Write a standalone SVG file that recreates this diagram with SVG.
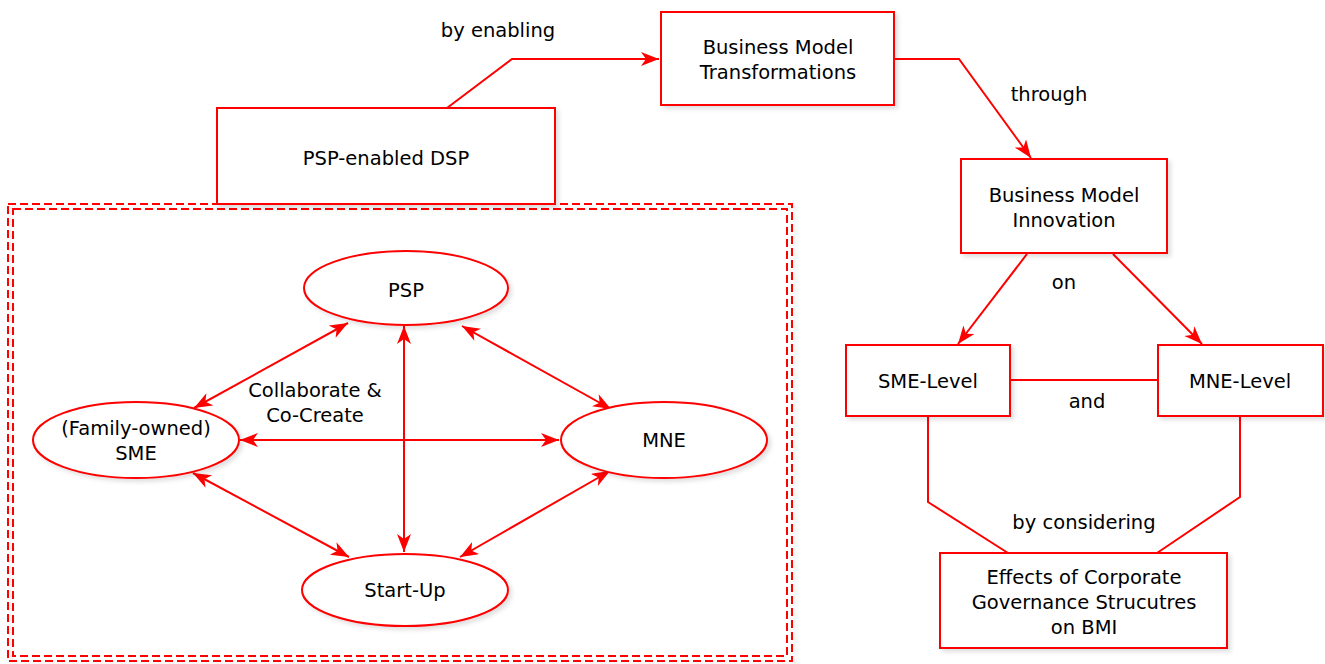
<svg xmlns="http://www.w3.org/2000/svg" width="1325" height="664" viewBox="0 0 1325 664">
  <style>
    .box { fill: #ffffff; stroke: #ff0000; stroke-width: 2; filter: url(#shadow); }
    .line { fill: none; stroke: #ff0000; stroke-width: 2; }
    .frame { fill: none; stroke: #ff0000; stroke-width: 2; stroke-dasharray: 8 4; }
    text { font-family: "DejaVu Sans", "Liberation Sans", sans-serif; font-size: 19.5px; fill: #000000; text-anchor: middle; dominant-baseline: central; }
  </style>
  <defs>
    <filter id="shadow" x="-10%" y="-10%" width="130%" height="130%">
      <feDropShadow dx="3" dy="3" stdDeviation="2" flood-color="#000000" flood-opacity="0.12"/>
    </filter>
    <marker id="head" markerUnits="userSpaceOnUse" markerWidth="19" markerHeight="15" refX="18" refY="7" orient="auto-start-reverse">
      <path d="M0,0 L18,7 L0,14 L5,7 Z" fill="#ff0000"/>
    </marker>
  </defs>

  <rect width="1325" height="664" fill="#ffffff"/>

  <!-- dashed double frame around the collaboration cluster -->
  <g id="cluster-frame">
    <rect class="frame" x="8" y="204" width="784" height="457" filter="url(#shadow)"/>
    <rect class="frame" x="13" y="209" width="774" height="447"/>
  </g>

  <!-- connectors -->
  <g id="connectors">
    <polyline class="line" points="447,108 512,59 659,59" marker-end="url(#head)"/>
    <polyline class="line" points="894,59 959,59 1031,158" marker-end="url(#head)"/>
    <line class="line" x1="1027" y1="254" x2="958" y2="344" marker-end="url(#head)"/>
    <line class="line" x1="1113" y1="254" x2="1202" y2="344" marker-end="url(#head)"/>
    <line class="line" x1="1010" y1="380" x2="1158" y2="380"/>
    <polyline class="line" points="928,416 928,502 1008,553"/>
    <polyline class="line" points="1240,416 1240,497 1157,553"/>

    <line class="line" x1="348" y1="323" x2="194" y2="408" marker-start="url(#head)" marker-end="url(#head)"/>
    <line class="line" x1="404" y1="326" x2="404" y2="552" marker-start="url(#head)" marker-end="url(#head)"/>
    <line class="line" x1="462" y1="326" x2="611" y2="409" marker-start="url(#head)" marker-end="url(#head)"/>
    <line class="line" x1="240" y1="440" x2="559" y2="440" marker-start="url(#head)" marker-end="url(#head)"/>
    <line class="line" x1="193" y1="473" x2="349" y2="557" marker-start="url(#head)" marker-end="url(#head)"/>
    <line class="line" x1="610" y1="471" x2="460" y2="557" marker-start="url(#head)" marker-end="url(#head)"/>

    <text x="498" y="30">by enabling</text>
    <text x="1049" y="94">through</text>
    <text x="1064" y="282">on</text>
    <text x="1087" y="401">and</text>
    <text x="1084" y="522">by considering</text>
    <text x="315" y="390">Collaborate &amp;</text>
    <text x="315" y="415">Co-Create</text>
  </g>

  <g id="psp-enabled-dsp">
    <rect class="box" x="217" y="108" width="338" height="96"/>
    <text x="386" y="158">PSP-enabled DSP</text>
  </g>

  <g id="bm-transformations">
    <rect class="box" x="661" y="12" width="233" height="93"/>
    <text x="778" y="47">Business Model</text>
    <text x="778" y="72">Transformations</text>
  </g>

  <g id="bm-innovation">
    <rect class="box" x="961" y="159" width="206" height="94"/>
    <text x="1064" y="195">Business Model</text>
    <text x="1064" y="220">Innovation</text>
  </g>

  <g id="sme-level">
    <rect class="box" x="846" y="345" width="164" height="71"/>
    <text x="928" y="381">SME-Level</text>
  </g>

  <g id="mne-level">
    <rect class="box" x="1158" y="345" width="165" height="71"/>
    <text x="1240" y="381">MNE-Level</text>
  </g>

  <g id="governance-effects">
    <rect class="box" x="940" y="553" width="287" height="95"/>
    <text x="1084" y="577">Effects of Corporate</text>
    <text x="1084" y="602">Governance Strucutres</text>
    <text x="1084" y="627">on BMI</text>
  </g>

  <g id="psp">
    <ellipse class="box" cx="406" cy="288" rx="102" ry="37"/>
    <text x="406" y="290">PSP</text>
  </g>

  <g id="sme">
    <ellipse class="box" cx="136" cy="440" rx="103" ry="38"/>
    <text x="136" y="428">(Family-owned)</text>
    <text x="136" y="453">SME</text>
  </g>

  <g id="mne">
    <ellipse class="box" cx="664" cy="440" rx="103" ry="38"/>
    <text x="664" y="440">MNE</text>
  </g>

  <g id="start-up">
    <ellipse class="box" cx="405" cy="590" rx="103" ry="36"/>
    <text x="405" y="590">Start-Up</text>
  </g>
</svg>
